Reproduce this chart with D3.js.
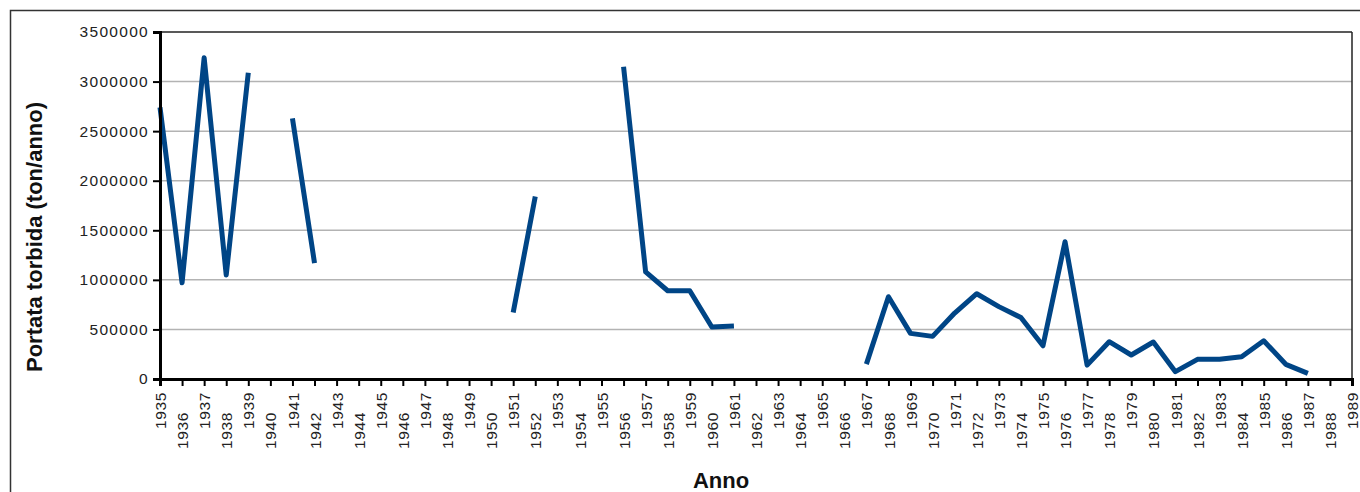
<!DOCTYPE html>
<html><head><meta charset="utf-8">
<script src="https://cdn.jsdelivr.net/npm/d3@7"></script>
<style>
html,body{margin:0;padding:0;background:#fff;}
svg{display:block;}
text{font-family:"Liberation Sans",Arial,sans-serif;}
</style></head>
<body>
<svg id="c" width="1360" height="492"></svg>
<script>
const years = d3.range(1935, 1990);
const values = [
  2740000, 970000, 3240000, 1050000, 3090000, null, 2630000, 1170000,
  null, null, null, null, null, null, null, null,
  670000, 1840000, null, null, null,
  3150000, 1080000, 890000, 890000, 525000, 535000,
  null, null, null, null, null,
  150000, 830000, 460000, 430000, 665000, 860000, 730000, 620000, 335000,
  1385000, 140000, 376000, 242000, 373000, 74000, 198000, 200000, 225000,
  386000, 148000, 57000, null, null
];
const yTicks = [0, 500000, 1000000, 1500000, 2000000, 2500000, 3000000, 3500000];
const xTitle = "Anno";
const yTitle = "Portata torbida (ton/anno)";

const data = years.map((y, i) => ({year: y, v: values[i]}));
const svg = d3.select("#c");
const L = 160, R = 1352, T = 32, B = 379;
const x = d3.scaleLinear().domain([1935, 1989]).range([L, R]);
const y = d3.scaleLinear().domain([0, 3500000]).range([B, T]);

// outer border
svg.append("rect").attr("x", 10.5).attr("y", 10.5).attr("width", 1360).attr("height", 500)
  .attr("fill", "none").attr("stroke", "#333").attr("stroke-width", 1.5);

// gridlines
svg.append("g").selectAll("line").data(yTicks.filter(d => d > 0 && d < 3500000)).join("line")
  .attr("x1", L).attr("x2", R).attr("y1", d => y(d)).attr("y2", d => y(d))
  .attr("stroke", "#b3b3b3").attr("stroke-width", 1.5);

// plot border top/right
svg.append("line").attr("x1", L).attr("x2", R).attr("y1", T).attr("y2", T).attr("stroke", "#222").attr("stroke-width", 1.5);
svg.append("line").attr("x1", R).attr("x2", R).attr("y1", T).attr("y2", B).attr("stroke", "#222").attr("stroke-width", 1.5);

// line
const line = d3.line().defined(d => d.v != null).x(d => x(d.year)).y(d => y(d.v));
svg.append("path").datum(data).attr("d", line).attr("fill", "none")
  .attr("stroke", "#004586").attr("stroke-width", 5).attr("stroke-linejoin", "round");

// y axis
const ya = svg.append("g").attr("transform", `translate(${L},0)`)
  .call(d3.axisLeft(y).tickValues(yTicks).tickFormat(d3.format("d")).tickSize(7).tickPadding(4));
ya.select(".domain").attr("stroke", "#000").attr("stroke-width", 3);
ya.selectAll(".tick line").attr("stroke", "#000").attr("stroke-width", 2);
ya.selectAll("text").attr("font-size", 15.5).attr("fill", "#222").style("letter-spacing", "1.3px")
  .style("font-family", "'Liberation Sans',Arial,sans-serif");

// x axis
const xa = svg.append("g").attr("transform", `translate(0,${B})`)
  .call(d3.axisBottom(x).tickValues(years).tickFormat(d3.format("d")).tickSize(7));
xa.select(".domain").attr("stroke", "#000").attr("stroke-width", 3);
xa.selectAll(".tick line").attr("stroke", "#000").attr("stroke-width", 2);
xa.selectAll(".tick text")
  .attr("transform", d => `translate(0,${(d % 2 === 1) ? 13 : 33}) rotate(-90)`)
  .attr("x", 0).attr("y", 0).attr("dy", "0.36em")
  .attr("text-anchor", "end").attr("font-size", 15.5).attr("fill", "#222")
  .style("letter-spacing", "0.6px").style("font-family", "'Liberation Sans',Arial,sans-serif");

// titles
svg.append("text").attr("x", 721).attr("y", 488).attr("text-anchor", "middle")
  .attr("font-size", 22).attr("font-weight", "bold").attr("fill", "#111").text(xTitle);
svg.append("text").attr("transform", `translate(42,${(103 + 371) / 2}) rotate(-90)`)
  .attr("text-anchor", "middle").attr("font-size", 22).attr("font-weight", "bold")
  .attr("fill", "#111").text(yTitle);
</script>
</body></html>
